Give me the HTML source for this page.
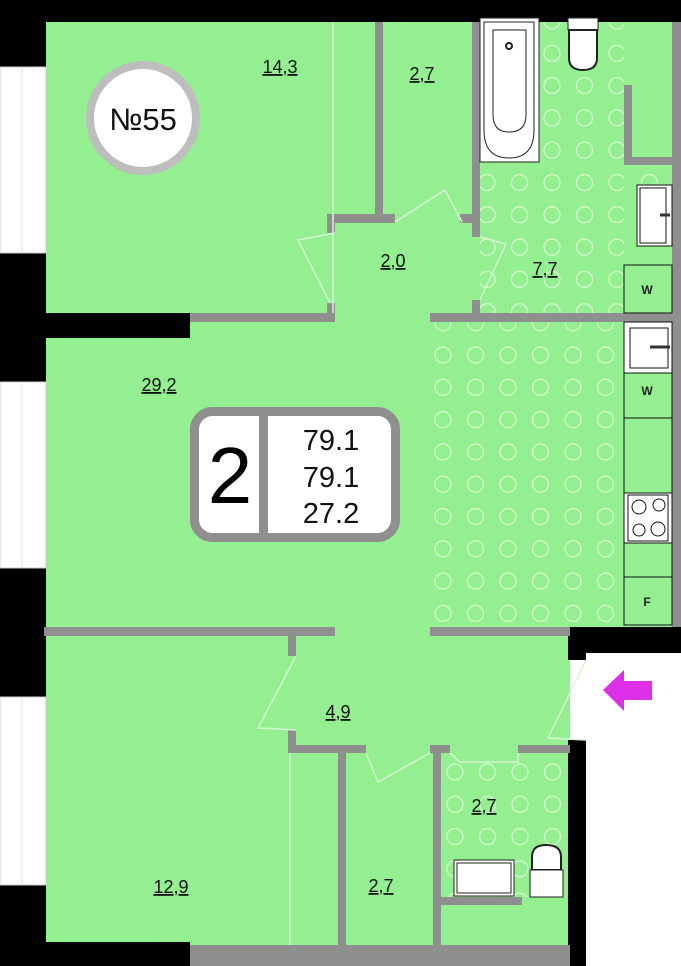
<!DOCTYPE html>
<html><head><meta charset="utf-8"><style>
html,body{margin:0;padding:0;background:#fff}
svg{display:block}
text{font-family:"Liberation Sans",sans-serif}
</style></head><body>
<svg width="681" height="966" viewBox="0 0 681 966" xmlns="http://www.w3.org/2000/svg">
<defs>
<pattern id="dots" x="471" y="5" width="32.5" height="32.3" patternUnits="userSpaceOnUse">
<circle cx="16" cy="16" r="8" fill="none" stroke="#d8f8d0" stroke-width="1.3"/>
</pattern>
<pattern id="dots2" x="427" y="339" width="32.5" height="32.3" patternUnits="userSpaceOnUse">
<circle cx="16" cy="16" r="8" fill="none" stroke="#d8f8d0" stroke-width="1.3"/>
</pattern>
<pattern id="dots3" x="439" y="756" width="32.5" height="32.3" patternUnits="userSpaceOnUse">
<circle cx="16" cy="16" r="8" fill="none" stroke="#d8f8d0" stroke-width="1.3"/>
</pattern>
</defs>
<rect width="681" height="966" fill="#fff"/>
<!-- green floor -->
<rect x="46" y="22" width="626" height="608" fill="#93ef8f"/>
<rect x="46" y="630" width="524" height="320" fill="#93ef8f"/>
<!-- dotted zones -->
<rect x="480" y="22" width="144" height="292" fill="url(#dots)"/>
<rect x="632" y="165" width="40" height="20" fill="url(#dots)"/>
<rect x="432" y="322" width="192" height="305" fill="url(#dots2)"/>
<rect x="441" y="752" width="128" height="145" fill="url(#dots3)"/>
<!-- black outer walls -->
<rect x="0" y="0" width="681" height="22" fill="#000"/>
<rect x="0" y="0" width="46" height="966" fill="#000"/>
<rect x="46" y="313" width="144" height="25" fill="#000"/>
<rect x="46" y="942" width="144" height="24" fill="#000"/>
<rect x="568" y="627" width="113" height="26" fill="#000"/>
<rect x="568" y="627" width="18" height="33" fill="#000"/>
<rect x="568" y="740" width="18" height="226" fill="#000"/>
<!-- windows -->
<g fill="#fff" stroke="#ccc" stroke-width="1">
<rect x="0" y="67" width="46" height="186"/>
<rect x="0" y="382" width="46" height="186"/>
<rect x="0" y="697" width="46" height="188"/>
</g>
<g stroke="#ddd" stroke-width="1"><line x1="22" y1="67" x2="22" y2="253"/><line x1="22" y1="382" x2="22" y2="568"/><line x1="22" y1="697" x2="22" y2="885"/></g>
<!-- gray walls -->
<g fill="#8f8f8f">
<rect x="672" y="22" width="9" height="605"/>
<rect x="190" y="313" width="145" height="9"/>
<rect x="430" y="313" width="242" height="9"/>
<rect x="327" y="303" width="8" height="19"/>
<rect x="375" y="22" width="8" height="200"/>
<rect x="327" y="214" width="68" height="9"/>
<rect x="327" y="214" width="8" height="19"/>
<rect x="472" y="22" width="8" height="215"/>
<rect x="460" y="214" width="20" height="9"/>
<rect x="472" y="300" width="8" height="20"/>
<rect x="624" y="85" width="8" height="80"/>
<rect x="624" y="157" width="48" height="8"/>
<rect x="44" y="627" width="291" height="9"/>
<rect x="430" y="627" width="140" height="9"/>
<rect x="288" y="636" width="8" height="20"/>
<rect x="288" y="730" width="8" height="23"/>
<rect x="288" y="745" width="78" height="8"/>
<rect x="430" y="745" width="20" height="8"/>
<rect x="518" y="745" width="52" height="8"/>
<rect x="338" y="753" width="8" height="192"/>
<rect x="433" y="753" width="8" height="192"/>
<rect x="441" y="897" width="81" height="8"/>
<rect x="190" y="945" width="380" height="21"/>
</g>
<!-- door swings -->
<g fill="none" stroke="#d8f5d5" stroke-width="1.5">
<polyline points="335,233 298,240 330,303"/>
<polyline points="395,222 445,190 462,222"/>
<polyline points="480,237 506,244 480,300"/>
<polyline points="296,656 258,728 296,730"/>
<polyline points="366,753 378,782 430,753"/>
<polyline points="450,753 460,762 518,762 518,753"/>
<polyline points="586,660 548,738 586,740"/>
<line x1="333" y1="22" x2="333" y2="313"/>
<line x1="290" y1="753" x2="290" y2="945"/>
</g>
<!-- kitchen column -->
<g stroke="#111" stroke-width="1">
<rect x="624" y="322" width="48" height="51" fill="#fff"/>
<rect x="630" y="328" width="38" height="40" fill="#fff"/>
<rect x="624" y="373" width="48" height="45" fill="none"/>
<rect x="624" y="418" width="48" height="75" fill="none"/>
<rect x="624" y="493" width="48" height="50" fill="#fff"/>
<rect x="628" y="495" width="40" height="46" fill="none"/>
<circle cx="639" cy="507" r="7" fill="none"/><circle cx="659" cy="505" r="6" fill="none"/>
<circle cx="639" cy="530" r="6" fill="none"/><circle cx="658" cy="529" r="7" fill="none"/>
<rect x="624" y="543" width="48" height="34" fill="none"/>
<rect x="624" y="577" width="48" height="48" fill="none"/>
<rect x="624" y="265" width="48" height="48" fill="none"/>
<rect x="637" y="185" width="35" height="61" fill="#fff"/>
<rect x="640" y="188" width="26" height="55" fill="none"/>
</g>
<line x1="650" y1="347" x2="670" y2="347" stroke="#333" stroke-width="3"/>
<line x1="660" y1="215" x2="670" y2="215" stroke="#333" stroke-width="3"/>
<g font-size="12" font-weight="bold" fill="#222" text-anchor="middle">
<text x="647" y="395">W</text><text x="647" y="294">W</text><text x="647" y="606">F</text>
</g>
<!-- bath -->
<g stroke="#222" stroke-width="1" fill="#fff">
<rect x="480" y="18" width="59" height="144"/>
<path d="M484,22 L534,22 L534,130 Q534,158 509,158 Q484,158 484,130 Z"/>
<path d="M493,30 L526,30 L526,115 Q526,132 509,132 Q493,132 493,115 Z"/>
<circle cx="509" cy="46" r="3" fill="none" stroke-width="2"/>
<rect x="568" y="18" width="30" height="12"/>
<path d="M569,30 L597,30 L597,58 Q597,70 583,70 Q569,70 569,58 Z" stroke-width="2"/>
<!-- toilet room -->
<rect x="454" y="860" width="60" height="36"/>
<rect x="457" y="863" width="54" height="30"/>
<path d="M532,870 L532,857 Q532,845 546,845 Q561,845 561,857 L561,870 Z" stroke-width="2"/>
<rect x="530" y="870" width="33" height="27"/>
</g>
<!-- info circle -->
<circle cx="143" cy="118" r="53" fill="#fff" stroke="#bdbdbd" stroke-width="8"/>
<text x="143" y="130" font-size="31" text-anchor="middle" fill="#111">№55</text>
<!-- info box -->
<rect x="194.5" y="411.5" width="201" height="126" rx="18" fill="#fff" stroke="#8f8f8f" stroke-width="9"/>
<rect x="259" y="412" width="9" height="125" fill="#8f8f8f"/>
<text x="230" y="503" font-size="80" text-anchor="middle" fill="#000">2</text>
<g font-size="29" text-anchor="middle" fill="#111">
<text x="331" y="450">79.1</text><text x="331" y="487">79.1</text><text x="331" y="523">27.2</text>
</g>
<!-- room labels -->
<g font-size="18" text-anchor="middle" fill="#111" text-decoration="underline">
<text x="280" y="73">14,3</text>
<text x="422" y="80">2,7</text>
<text x="545" y="275">7,7</text>
<text x="393" y="267">2,0</text>
<text x="159" y="391">29,2</text>
<text x="338" y="718">4,9</text>
<text x="484" y="812">2,7</text>
<text x="171" y="893">12,9</text>
<text x="381" y="892">2,7</text>
</g>
<!-- entrance arrow -->
<polygon points="603,690 624,670 624,681 652,681 652,700 624,700 624,711" fill="#dd2ee8"/>
</svg>
</body></html>
